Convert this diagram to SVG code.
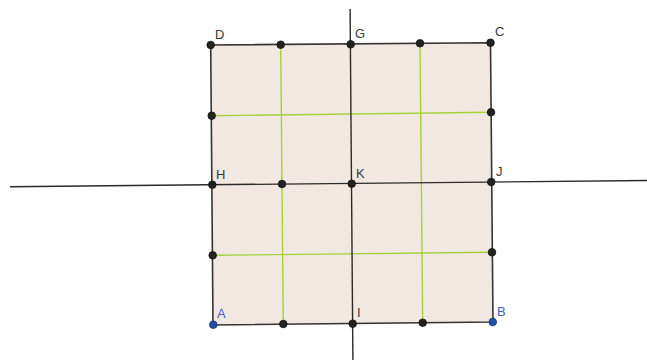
<svg xmlns="http://www.w3.org/2000/svg" width="647" height="360" viewBox="0 0 647 360">
<style>
.sq{fill:#f2e8e2;stroke:#3a3230;stroke-width:1.6}
.ax{stroke:#2a2a2a;stroke-width:1.4;fill:none}
.gr{stroke:#a5d23a;stroke-width:1.4;fill:none}
.pt{fill:#222;stroke:#111;stroke-width:0.8}
.bp{fill:#1e4fa8;stroke:#13336e;stroke-width:0.8}
.lb{font-family:"Liberation Sans",Arial,sans-serif;font-size:13px;fill:#3a3a3a}
.lbb{font-family:"Liberation Sans",Arial,sans-serif;font-size:13px;fill:#3a5fc0}
</style>
<rect width="647" height="360" fill="#ffffff"/>
<g id="square"><polygon class="sq" points="213,325 493,322 490.5,42.7 210.7,45"/></g>
<g id="connectors">
<line class="gr" x1="280.7" y1="44.7" x2="283.3" y2="324"/>
<line class="gr" x1="420" y1="43.3" x2="422.7" y2="322.7"/>
<line class="gr" x1="211.7" y1="115.7" x2="491" y2="112.3"/>
<line class="gr" x1="212.7" y1="255.3" x2="492" y2="252.3"/>
<line class="ax" x1="10" y1="186.7" x2="647" y2="180.5"/>
<line class="ax" x1="350.1" y1="9" x2="352.9" y2="360"/>
</g>
<g id="D"><circle class="pt" cx="210.7" cy="45" r="3.8"/><text class="lb" x="215" y="39">D</text></g>
<g id="P1"><circle class="pt" cx="280.7" cy="44.7" r="3.8"/></g>
<g id="G"><circle class="pt" cx="350.7" cy="44.3" r="3.8"/><text class="lb" x="355" y="38">G</text></g>
<g id="P2"><circle class="pt" cx="420" cy="43.3" r="3.8"/></g>
<g id="C"><circle class="pt" cx="490.5" cy="42.7" r="3.8"/><text class="lb" x="495" y="36">C</text></g>
<g id="P3"><circle class="pt" cx="211.7" cy="115.7" r="3.8"/></g>
<g id="P4"><circle class="pt" cx="491" cy="112.3" r="3.8"/></g>
<g id="H"><circle class="pt" cx="212.3" cy="184.7" r="3.8"/><text class="lb" x="216" y="179">H</text></g>
<g id="P5"><circle class="pt" cx="282" cy="184" r="3.8"/></g>
<g id="K"><circle class="pt" cx="351.7" cy="183.7" r="3.8"/><text class="lb" x="356" y="178">K</text></g>
<g id="J"><circle class="pt" cx="491.2" cy="182" r="3.8"/><text class="lb" x="496" y="176">J</text></g>
<g id="P6"><circle class="pt" cx="212.7" cy="255.3" r="3.8"/></g>
<g id="P7"><circle class="pt" cx="492" cy="252.3" r="3.8"/></g>
<g id="A"><circle class="bp" cx="213.3" cy="324.7" r="3.8"/><text class="lbb" x="217" y="318">A</text></g>
<g id="P8"><circle class="pt" cx="283.3" cy="324" r="3.8"/></g>
<g id="I"><circle class="pt" cx="352.7" cy="323.7" r="3.8"/><text class="lb" x="357" y="317">I</text></g>
<g id="P9"><circle class="pt" cx="422.7" cy="322.7" r="3.8"/></g>
<g id="B"><circle class="bp" cx="492.8" cy="322" r="3.8"/><text class="lbb" x="497" y="316">B</text></g>
</svg>
